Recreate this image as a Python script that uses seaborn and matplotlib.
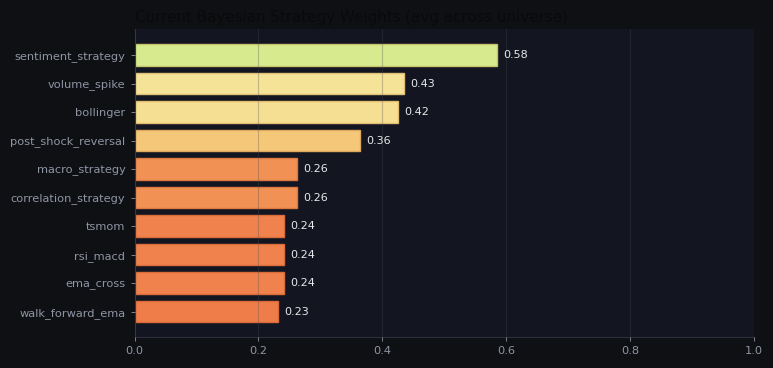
import matplotlib
matplotlib.use('Agg')
import matplotlib.pyplot as plt
import numpy as np
import pandas as pd
import seaborn as sns

strategies = ['sentiment_strategy', 'volume_spike', 'bollinger', 'post_shock_reversal',
              'macro_strategy', 'correlation_strategy', 'tsmom', 'rsi_macd',
              'ema_cross', 'walk_forward_ema']
weights = [0.585, 0.435, 0.425, 0.364, 0.263, 0.263, 0.242, 0.242, 0.242, 0.232]

sns.set_theme(style='dark')
plt.rcParams['font.family'] = ['DejaVu Sans']

fig_bg = '#0e1014'
ax_bg = '#131620'
text_c = '#8e95a3'

df = pd.DataFrame({'strategy': strategies, 'weight': weights})
cmap = plt.get_cmap('RdYlGn')
palette = {s: cmap(w) for s, w in zip(strategies, weights)}

fig, ax = plt.subplots(figsize=(7.73, 3.68), dpi=100)
fig.patch.set_facecolor(fig_bg)
ax.set_facecolor(ax_bg)

sns.barplot(data=df, x='weight', y='strategy', hue='strategy', palette=palette,
            order=strategies, legend=False, width=0.76, ax=ax, alpha=0.97,
            saturation=1, linewidth=1)
for patch in ax.patches:
    fc = patch.get_facecolor()
    patch.set_edgecolor((fc[0] * 0.9, fc[1] * 0.82, fc[2] * 0.75, 1))

for i, w in enumerate(weights):
    ax.text(w + 0.01, i, f'{w:.2f}', va='center', ha='left', color='#e8e8ea', fontsize=8)

ax.set_xlim(0, 1.0)
ax.set_ylim(len(strategies) - 0.12, -0.91)
ax.set_xlabel('')
ax.set_ylabel('')
ax.set_title('Current Bayesian Strategy Weights (avg across universe)', loc='left',
             color='#0a0a0a', fontsize=10.9, pad=5)

ax.xaxis.grid(True, color='#4a4a52', alpha=0.3, linewidth=0.8)
ax.yaxis.grid(False)
ax.set_axisbelow(False)
ax.tick_params(axis='both', colors=text_c, labelsize=8.2, length=3, width=0.6,
               bottom=True, left=True)
for lab in ax.get_xticklabels() + ax.get_yticklabels():
    lab.set_color(text_c)
for side in ['top', 'right']:
    ax.spines[side].set_visible(False)
for side in ['left', 'bottom']:
    ax.spines[side].set_color('#2b2f3a')
    ax.spines[side].set_linewidth(0.8)

fig.subplots_adjust(left=0.174, right=0.975, top=0.921, bottom=0.085)
fig.savefig('out.png', dpi=100, facecolor=fig_bg)
